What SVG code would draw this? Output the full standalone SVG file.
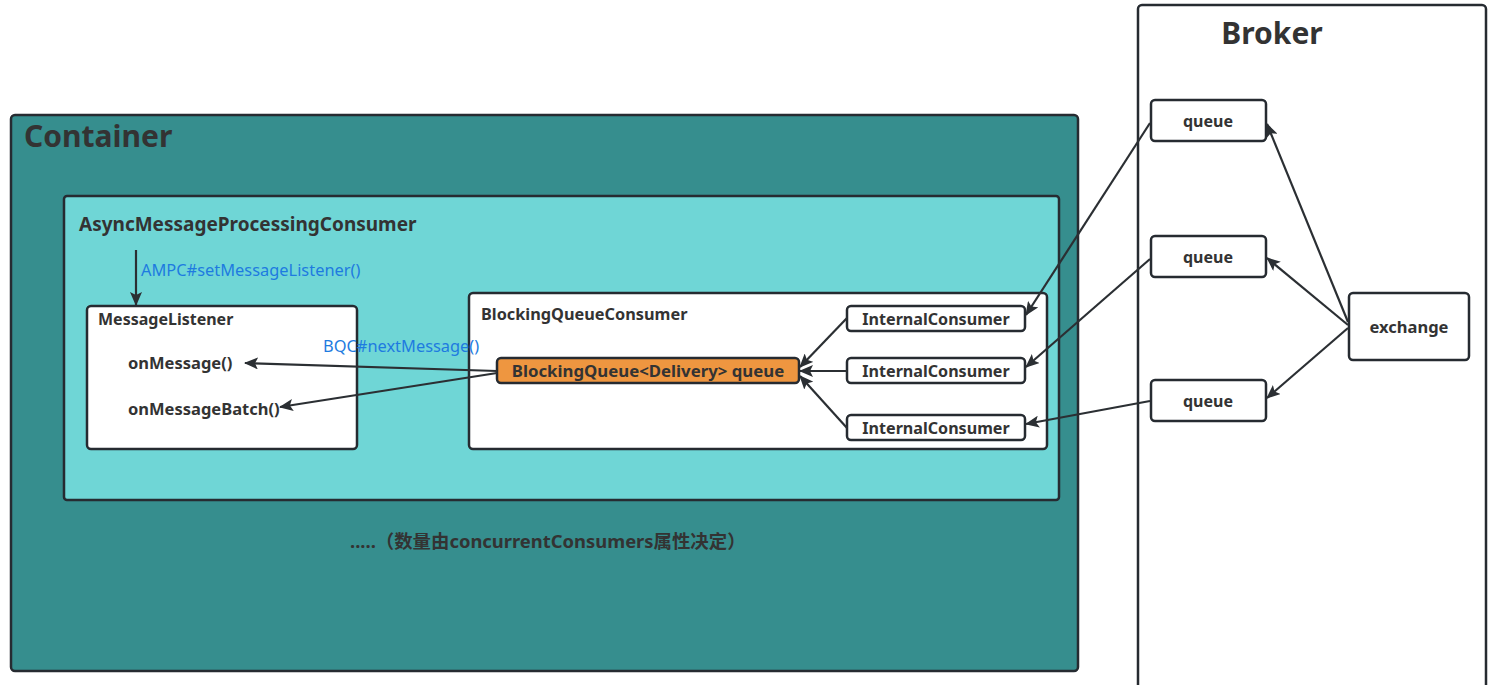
<svg xmlns="http://www.w3.org/2000/svg" width="1499" height="685" viewBox="0 0 1499 685">
<defs>
<marker id="ah" viewBox="0 0 14 12" refX="13" refY="6" markerWidth="14" markerHeight="12" markerUnits="userSpaceOnUse" orient="auto">
<path d="M0,0 L14,6 L0,12 L3,6 Z" fill="#2b2f33"/>
</marker>
</defs>
<style>
.box{stroke:#262b31;stroke-width:2.5}
.t{font-family:"Noto Sans","Noto Sans CJK SC",sans-serif;font-weight:bold;fill:#333333}
.lbl{font-family:"Noto Sans","Noto Sans CJK SC",sans-serif;fill:#1e7be0;font-size:16.4px}
.c{fill:none;stroke:#2b2f33;stroke-width:2.2;marker-end:url(#ah)}
</style>
<rect width="1499" height="685" fill="#ffffff"/>
<g id="container">
<rect class="box" x="11" y="115" width="1067" height="556" rx="4" fill="#368e8e"/>
<text class="t" x="24" y="147" font-size="30">Container</text>
<text class="t" x="350" y="548" font-size="18.4">.....（数量由concurrentConsumers属性决定）</text>
</g>
<g id="ampc">
<rect class="box" x="64" y="196" width="995" height="304" rx="3" fill="#6fd6d6"/>
<text class="t" x="79" y="231" font-size="19">AsyncMessageProcessingConsumer</text>
</g>
<g id="messageListener">
<rect class="box" x="87" y="306" width="270" height="143" rx="4" fill="#ffffff"/>
<text class="t" x="98" y="325" font-size="16">MessageListener</text>
<text class="t" x="128" y="369" font-size="16.5">onMessage()</text>
<text class="t" x="128" y="415" font-size="16.5">onMessageBatch()</text>
</g>
<g id="bqc">
<rect class="box" x="469" y="293" width="578" height="156" rx="4" fill="#ffffff"/>
<text class="t" x="481" y="320" font-size="16.3">BlockingQueueConsumer</text>
</g>
<g id="blockingQueue">
<rect class="box" x="497" y="358" width="302" height="25" rx="4" fill="#ee9640"/>
<text class="t" x="648" y="377" font-size="16.8" text-anchor="middle">BlockingQueue&lt;Delivery&gt; queue</text>
</g>
<g id="ic1">
<rect class="box" x="847" y="306" width="178" height="25" rx="4" fill="#ffffff"/>
<text class="t" x="936" y="325" font-size="16.1" text-anchor="middle">InternalConsumer</text>
</g>
<g id="ic2">
<rect class="box" x="847" y="358" width="178" height="25" rx="4" fill="#ffffff"/>
<text class="t" x="936" y="377" font-size="16.1" text-anchor="middle">InternalConsumer</text>
</g>
<g id="ic3">
<rect class="box" x="847" y="415" width="178" height="25" rx="4" fill="#ffffff"/>
<text class="t" x="936" y="434" font-size="16.1" text-anchor="middle">InternalConsumer</text>
</g>
<g id="broker">
<rect class="box" x="1138" y="5" width="348" height="690" rx="4" fill="#ffffff"/>
<text class="t" x="1272" y="44" font-size="30" text-anchor="middle">Broker</text>
</g>
<g id="queue1">
<rect class="box" x="1151" y="100" width="115" height="41" rx="4" fill="#ffffff"/>
<text class="t" x="1208" y="127" font-size="16" text-anchor="middle">queue</text>
</g>
<g id="queue2">
<rect class="box" x="1151" y="236" width="115" height="41" rx="4" fill="#ffffff"/>
<text class="t" x="1208" y="263" font-size="16" text-anchor="middle">queue</text>
</g>
<g id="queue3">
<rect class="box" x="1151" y="380" width="115" height="41" rx="4" fill="#ffffff"/>
<text class="t" x="1208" y="407" font-size="16" text-anchor="middle">queue</text>
</g>
<g id="exchange">
<rect class="box" x="1349" y="293" width="120" height="67" rx="4" fill="#ffffff"/>
<text class="t" x="1409" y="333" font-size="16.5" text-anchor="middle">exchange</text>
</g>
<g id="connectors">
<line class="c" x1="136" y1="250" x2="136" y2="305"/>
<line class="c" x1="1348" y1="322" x2="1267" y2="124"/>
<line class="c" x1="1348" y1="325" x2="1267" y2="258"/>
<line class="c" x1="1348" y1="328" x2="1267" y2="398"/>
<line class="c" x1="1150" y1="123" x2="1026" y2="315"/>
<line class="c" x1="1150" y1="259" x2="1026" y2="367"/>
<line class="c" x1="1150" y1="401" x2="1026" y2="424"/>
<line class="c" x1="847" y1="318" x2="800" y2="367"/>
<line class="c" x1="847" y1="371" x2="800" y2="371"/>
<line class="c" x1="847" y1="428" x2="800" y2="376"/>
<line class="c" x1="497" y1="371" x2="245" y2="363"/>
<line class="c" x1="497" y1="373" x2="280" y2="407"/>
<text class="lbl" x="141" y="276">AMPC#setMessageListener()</text>
<text class="lbl" x="323" y="352">BQC#nextMessage()</text>
</g>
</svg>
